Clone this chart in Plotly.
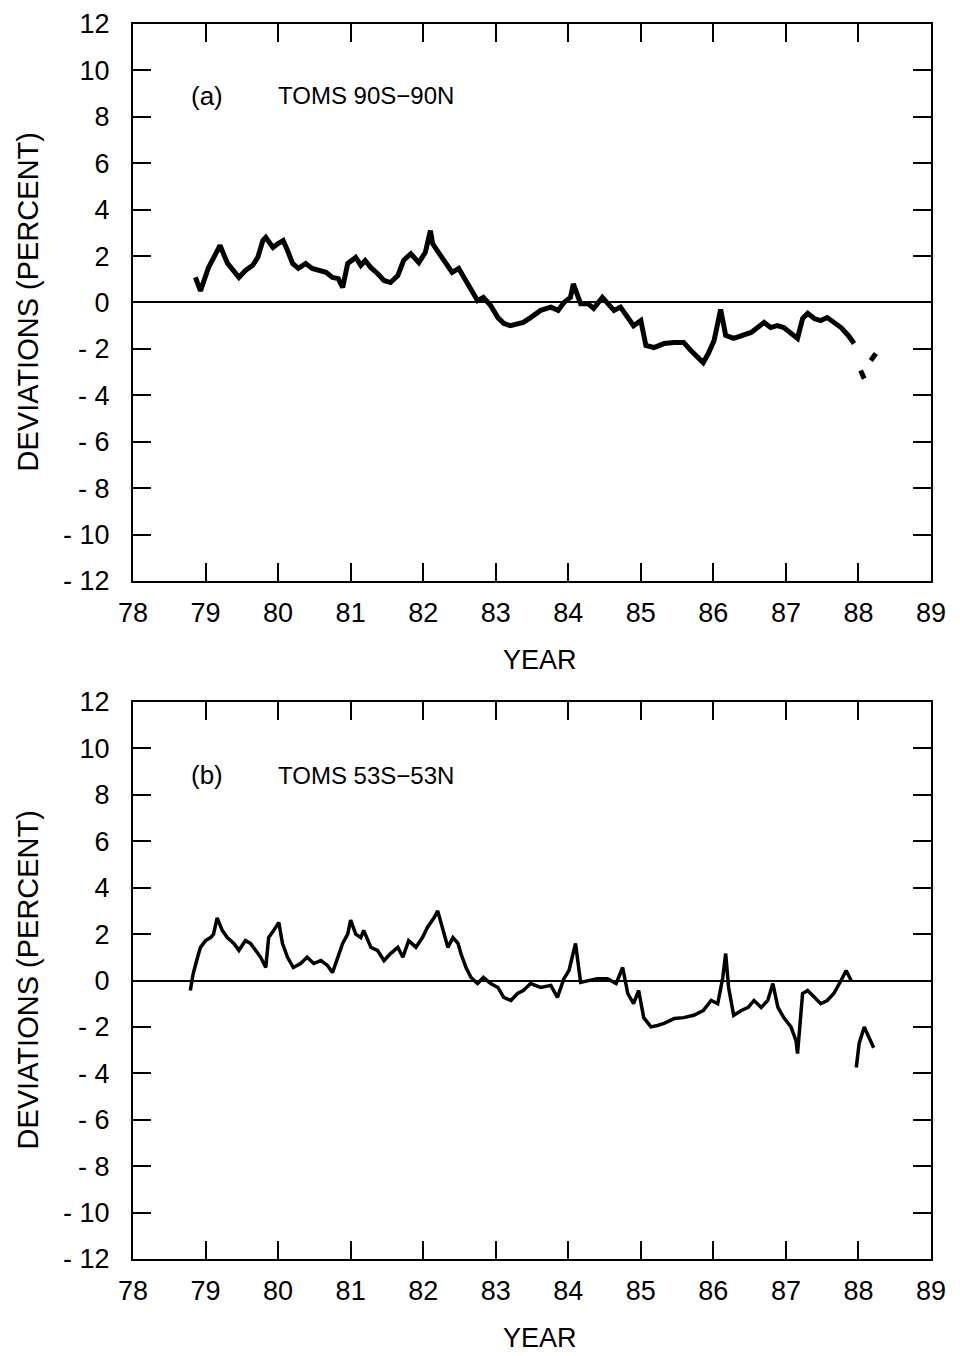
import plotly.graph_objects as go
from plotly.subplots import make_subplots

# ---panel (a): TOMS 90S-90N, deviations in percent
years_a = [78.86, 78.93, 79.04, 79.15, 79.2, 79.3, 79.41, 79.46, 79.55, 79.65, 79.72, 79.79, 79.83,
           79.93, 80.0, 80.07, 80.13, 80.2, 80.28, 80.38, 80.47, 80.56, 80.66, 80.75, 80.83, 80.89,
           80.96, 81.07, 81.14, 81.2, 81.28, 81.37, 81.46, 81.55, 81.65, 81.73, 81.83, 81.94, 82.03,
           82.1, 82.13, 82.21, 82.31, 82.4, 82.49, 82.59, 82.66, 82.75, 82.83, 82.93, 83.03, 83.11,
           83.2, 83.3, 83.38, 83.48, 83.57, 83.62, 83.76, 83.86, 83.94, 84.03, 84.07, 84.17, 84.27,
           84.35, 84.47, 84.54, 84.63, 84.72, 84.82, 84.9, 85.0, 85.07, 85.18, 85.32, 85.46, 85.59,
           85.69, 85.79, 85.86, 85.93, 86.01, 86.1, 86.17, 86.28, 86.42, 86.52, 86.61, 86.7, 86.79,
           86.88, 86.97, 87.07, 87.16, 87.23, 87.3, 87.39, 87.48, 87.57, 87.66, 87.76, 87.86, 87.94,
           87.98, 88.03, 88.08, 88.12, 88.17, 88.24]
dev_a = [1.08, 0.5, 1.5, 2.24, 2.46, 1.7, 1.25, 1.08, 1.38, 1.6, 1.94, 2.67, 2.8,
         2.37, 2.54, 2.67, 2.24, 1.68, 1.47, 1.68, 1.47, 1.38, 1.3, 1.08, 1.03, 0.65,
         1.68, 1.94, 1.6, 1.81, 1.5, 1.25, 0.95, 0.86, 1.16, 1.81, 2.1, 1.72, 2.16,
         3.1, 2.54, 2.16, 1.72, 1.3, 1.47, 0.95, 0.52, 0.08, 0.22, -0.13, -0.65, -0.9,
         -1.0, -0.9, -0.86, -0.65, -0.47, -0.34, -0.2, -0.34, 0.0, 0.22, 0.8, -0.05, -0.05,
         -0.26, 0.22, -0.05, -0.34, -0.2, -0.65, -1.0, -0.78, -1.85, -1.94, -1.77, -1.72, -1.72,
         -2.07, -2.41, -2.59, -2.2, -1.64, -0.3, -1.42, -1.55, -1.42, -1.29, -1.08, -0.86, -1.08,
         -1.0, -1.08, -1.34, -1.55, -0.69, -0.47, -0.69, -0.78, -0.65, -0.86, -1.08, -1.42, -1.77,
         None, -2.93, -3.28, None, -2.5, -2.2]

# ---panel (b): TOMS 53S-53N
years_b = [78.79, 78.83, 78.89, 78.93, 79.0, 79.07, 79.11, 79.16, 79.23, 79.3, 79.39, 79.46, 79.55,
           79.62, 79.69, 79.76, 79.83, 79.87, 79.94, 80.01, 80.06, 80.13, 80.21, 80.31, 80.4, 80.49,
           80.59, 80.68, 80.75, 80.82, 80.89, 80.96, 81.0, 81.07, 81.14, 81.18, 81.28, 81.37, 81.46,
           81.55, 81.65, 81.72, 81.8, 81.9, 81.99, 82.06, 82.15, 82.2, 82.27, 82.34, 82.41, 82.48,
           82.52, 82.59, 82.66, 82.75, 82.83, 82.93, 83.03, 83.11, 83.21, 83.3, 83.38, 83.48, 83.62,
           83.76, 83.85, 83.94, 84.01, 84.1, 84.17, 84.27, 84.4, 84.54, 84.66, 84.75, 84.82, 84.9,
           84.97, 85.04, 85.14, 85.23, 85.32, 85.46, 85.59, 85.73, 85.86, 85.97, 86.06, 86.13, 86.17,
           86.21, 86.28, 86.38, 86.48, 86.56, 86.66, 86.75, 86.82, 86.89, 86.97, 87.07, 87.14, 87.16,
           87.23, 87.3, 87.39, 87.48, 87.57, 87.66, 87.76, 87.83, 87.9, 87.94, 87.97, 88.01, 88.08,
           88.14, 88.21]
dev_b = [-0.43, 0.3, 1.0, 1.43, 1.72, 1.85, 2.0, 2.7, 2.16, 1.85, 1.6, 1.3, 1.72,
         1.6, 1.3, 1.0, 0.56, 1.85, 2.16, 2.5, 1.6, 1.0, 0.56, 0.73, 1.0, 0.73,
         0.86, 0.65, 0.34, 1.0, 1.6, 2.0, 2.6, 2.0, 1.85, 2.16, 1.43, 1.3, 0.86,
         1.16, 1.43, 1.0, 1.72, 1.43, 1.85, 2.3, 2.7, 3.0, 2.16, 1.43, 1.85, 1.6,
         1.16, 0.56, 0.13, -0.13, 0.13, -0.13, -0.3, -0.73, -0.86, -0.56, -0.43, -0.13, -0.3,
         -0.21, -0.73, 0.08, 0.43, 1.6, -0.08, 0.0, 0.08, 0.08, -0.13, 0.56, -0.56, -1.0,
         -0.43, -1.6, -2.0, -1.94, -1.85, -1.64, -1.6, -1.5, -1.3, -0.86, -1.0, 0.13, 1.16,
         -0.3, -1.5, -1.3, -1.16, -0.86, -1.16, -0.86, -0.13, -1.16, -1.6, -2.0, -2.6, -3.15,
         -0.56, -0.43, -0.73, -1.0, -0.86, -0.56, 0.0, 0.43, 0.0, None, -3.75, -2.7, -2.0,
         -2.45, -2.9]

x_ticks = list(range(78, 90))
y_ticks = list(range(-12, 13, 2))
y_text = [f"- {abs(v)}" if v < 0 else str(v) for v in y_ticks]

FONT = "Liberation Sans, Arial, Helvetica, sans-serif"

fig = make_subplots(rows=2, cols=1, vertical_spacing=0.098)

fig.add_trace(go.Scatter(x=years_a, y=dev_a, mode="lines", connectgaps=False,
                         line=dict(color="black", width=5), showlegend=False), row=1, col=1)
fig.add_trace(go.Scatter(x=years_b, y=dev_b, mode="lines", connectgaps=False,
                         line=dict(color="black", width=3.5), showlegend=False), row=2, col=1)

axis_common = dict(showline=True, linecolor="black", linewidth=2, mirror="ticks",
                   ticks="inside", ticklen=18, tickwidth=2, tickcolor="black",
                   showgrid=False, automargin=False,
                   tickfont=dict(family=FONT, size=27, color="black"))

for r in (1, 2):
    fig.update_xaxes(range=[78, 89], tickvals=x_ticks, ticklabelstandoff=7,
                     zeroline=False, **axis_common, row=r, col=1)
    fig.update_yaxes(range=[-12, 12], tickvals=y_ticks, ticktext=y_text, ticklabelstandoff=16,
                     zeroline=True, zerolinecolor="black", zerolinewidth=2,
                     **axis_common, row=r, col=1)

labels = [("(a)", "TOMS 90S\u221290N", 8.9, "y"), ("(b)", "TOMS 53S\u221253N", 8.84, "y2")]
for idx, (tag, name, ypos, yref) in enumerate(labels):
    xref = "x" if idx == 0 else "x2"
    fig.add_annotation(x=78.77, y=ypos, xref=xref, yref=yref, text=tag, showarrow=False,
                       xanchor="left", font=dict(family=FONT, size=26, color="black"))
    fig.add_annotation(x=79.97, y=ypos, xref=xref, yref=yref, text=name, showarrow=False,
                       xanchor="left", font=dict(family=FONT, size=24, color="black"))

# axis titles as annotations so they sit where the original has them
for dom in ((0.549, 1.0), (0.0, 0.451)):
    mid = (dom[0] + dom[1]) / 2
    fig.add_annotation(x=0, y=mid, xref="paper", yref="paper", text="DEVIATIONS (PERCENT)",
                       textangle=-90, showarrow=False, xanchor="center", yanchor="middle",
                       xshift=-105, font=dict(family=FONT, size=29, color="black"))
    fig.add_annotation(x=0.51, y=dom[0], xref="paper", yref="paper", text="YEAR",
                       showarrow=False, yanchor="top", yshift=-62,
                       font=dict(family=FONT, size=27, color="black"))

# the page adds an 8px body margin, so margins are trimmed by that amount
fig.update_layout(width=960, height=1356, paper_bgcolor="white", plot_bgcolor="white",
                  margin=dict(l=125, r=37, t=16, b=105))

fig.write_html("out.html")
